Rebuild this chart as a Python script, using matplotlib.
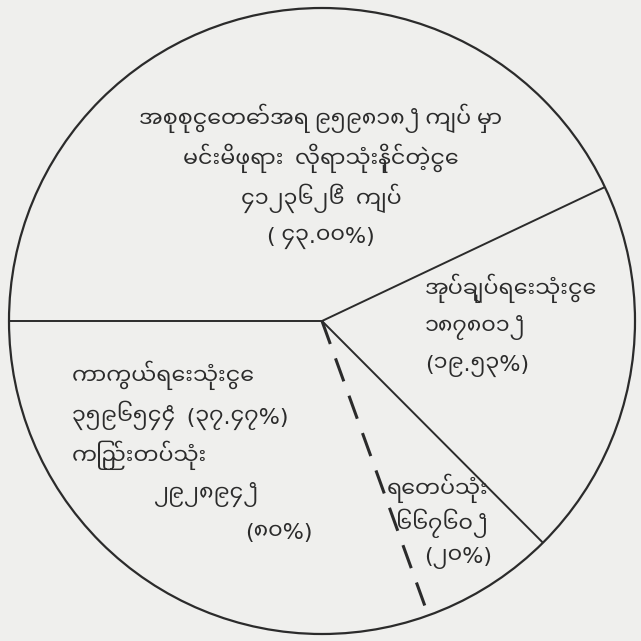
import os
import matplotlib
matplotlib.use("Agg")
import numpy as np
import matplotlib.pyplot as plt
from matplotlib import font_manager
from matplotlib.patches import Circle

# --- data (amounts with one decimal, shares as printed) ---
slice_names = ["royal", "admin", "navy", "army"]
amounts = [412362.6, 187801.2, 66760.2, 292894.2]

total_text = "၉၅၉၈၁၈၂̊"
royal_lines = ["အစုစုငွေတော်အရ " + total_text + " ကျပ် မှာ",
               "မင်းမိဖုရား  လိုရာသုံးနိုင်တဲ့ငွေ",
               "၄၁၂၃၆၂၆̊  ကျပ်",
               "( ၄၃.၀၀%)"]
admin_lines = ["အုပ်ချုပ်ရေးသုံးငွေ", "၁၈၇၈၀၁၂̊", "(၁၉.၅၃%)"]
defence_lines = ["ကာကွယ်ရေးသုံးငွေ", "၃၅၉၆၅၄၄̊  (၃၇.၄၇%)", "ကြည်းတပ်သုံး"]
army_lines = ["၂၉၂၈၉၄၂̊", "(၈၀%)"]
navy_lines = ["ရေတပ်သုံး", "၆၆၇၆၀၂̊", "(၂၀%)"]

# Myanmar font: no shaping in matplotlib, but the glyphs are there
font_dir = "/usr/share/fonts/truetype/google-fonts"
mm_family = None
for name in ["NotoSansMyanmarUI-Regular.ttf", "NotoSansMyanmar-Regular.ttf", "Padauk-Regular.ttf"]:
    path = os.path.join(font_dir, name)
    if os.path.exists(path):
        font_manager.fontManager.addfont(path)
        mm_family = font_manager.FontProperties(fname=path).get_name()
        break
plt.rcParams["font.family"] = ([mm_family] if mm_family else []) + ["DejaVu Sans"]

paper = "#efefed"
ink = "#2b2b2b"

fig = plt.figure(figsize=(6.41, 6.41), dpi=100, facecolor=paper)
ax = fig.add_axes([0, 0, 1, 1])


def Y(y):
    # reference measured from the top edge
    return 641 - y


cx, cy, r = 322, Y(321), 313
wedges, _ = ax.pie(amounts, startangle=180, counterclock=False, center=(cx, cy),
                   radius=r, wedgeprops=dict(facecolor=paper, edgecolor="none"),
                   frame=True)
ax.set_xlim(0, 641)
ax.set_ylim(0, 641)
ax.set_aspect("equal")
ax.axis("off")

ax.add_patch(Circle((cx, cy), r, fill=False, ec=ink, lw=1.6))

for i, w in enumerate(wedges):
    a = np.deg2rad(w.theta1)
    dashed = slice_names[i] == "navy"
    ax.plot([cx, cx + r * np.cos(a)], [cy, cy + r * np.sin(a)], color=ink,
            lw=2.2 if dashed else 1.4, linestyle=(0, (8, 5)) if dashed else "-",
            solid_capstyle="butt", dash_capstyle="butt")

fs = 16
kw = dict(va="center", fontsize=fs, color=ink)
for k, t in enumerate(royal_lines):
    ax.text(321, Y(118 + 40 * k), t, ha="center", **kw)
for k, t in enumerate(admin_lines):
    ax.text(425, Y(288 + 39 * k), t, ha="left", **kw)
for k, t in enumerate(defence_lines):
    ax.text(72, Y(375 + 40 * k), t, ha="left", **kw)
ax.text(153, Y(494), army_lines[0], ha="left", **kw)
ax.text(245, Y(533), army_lines[1], ha="left", **kw)
ax.text(387, Y(488), navy_lines[0], ha="left", **kw)
ax.text(396, Y(523), navy_lines[1], ha="left", **kw)
ax.text(424, Y(558), navy_lines[2], ha="left", **kw)

fig.savefig("out.png", dpi=100, facecolor=paper)
